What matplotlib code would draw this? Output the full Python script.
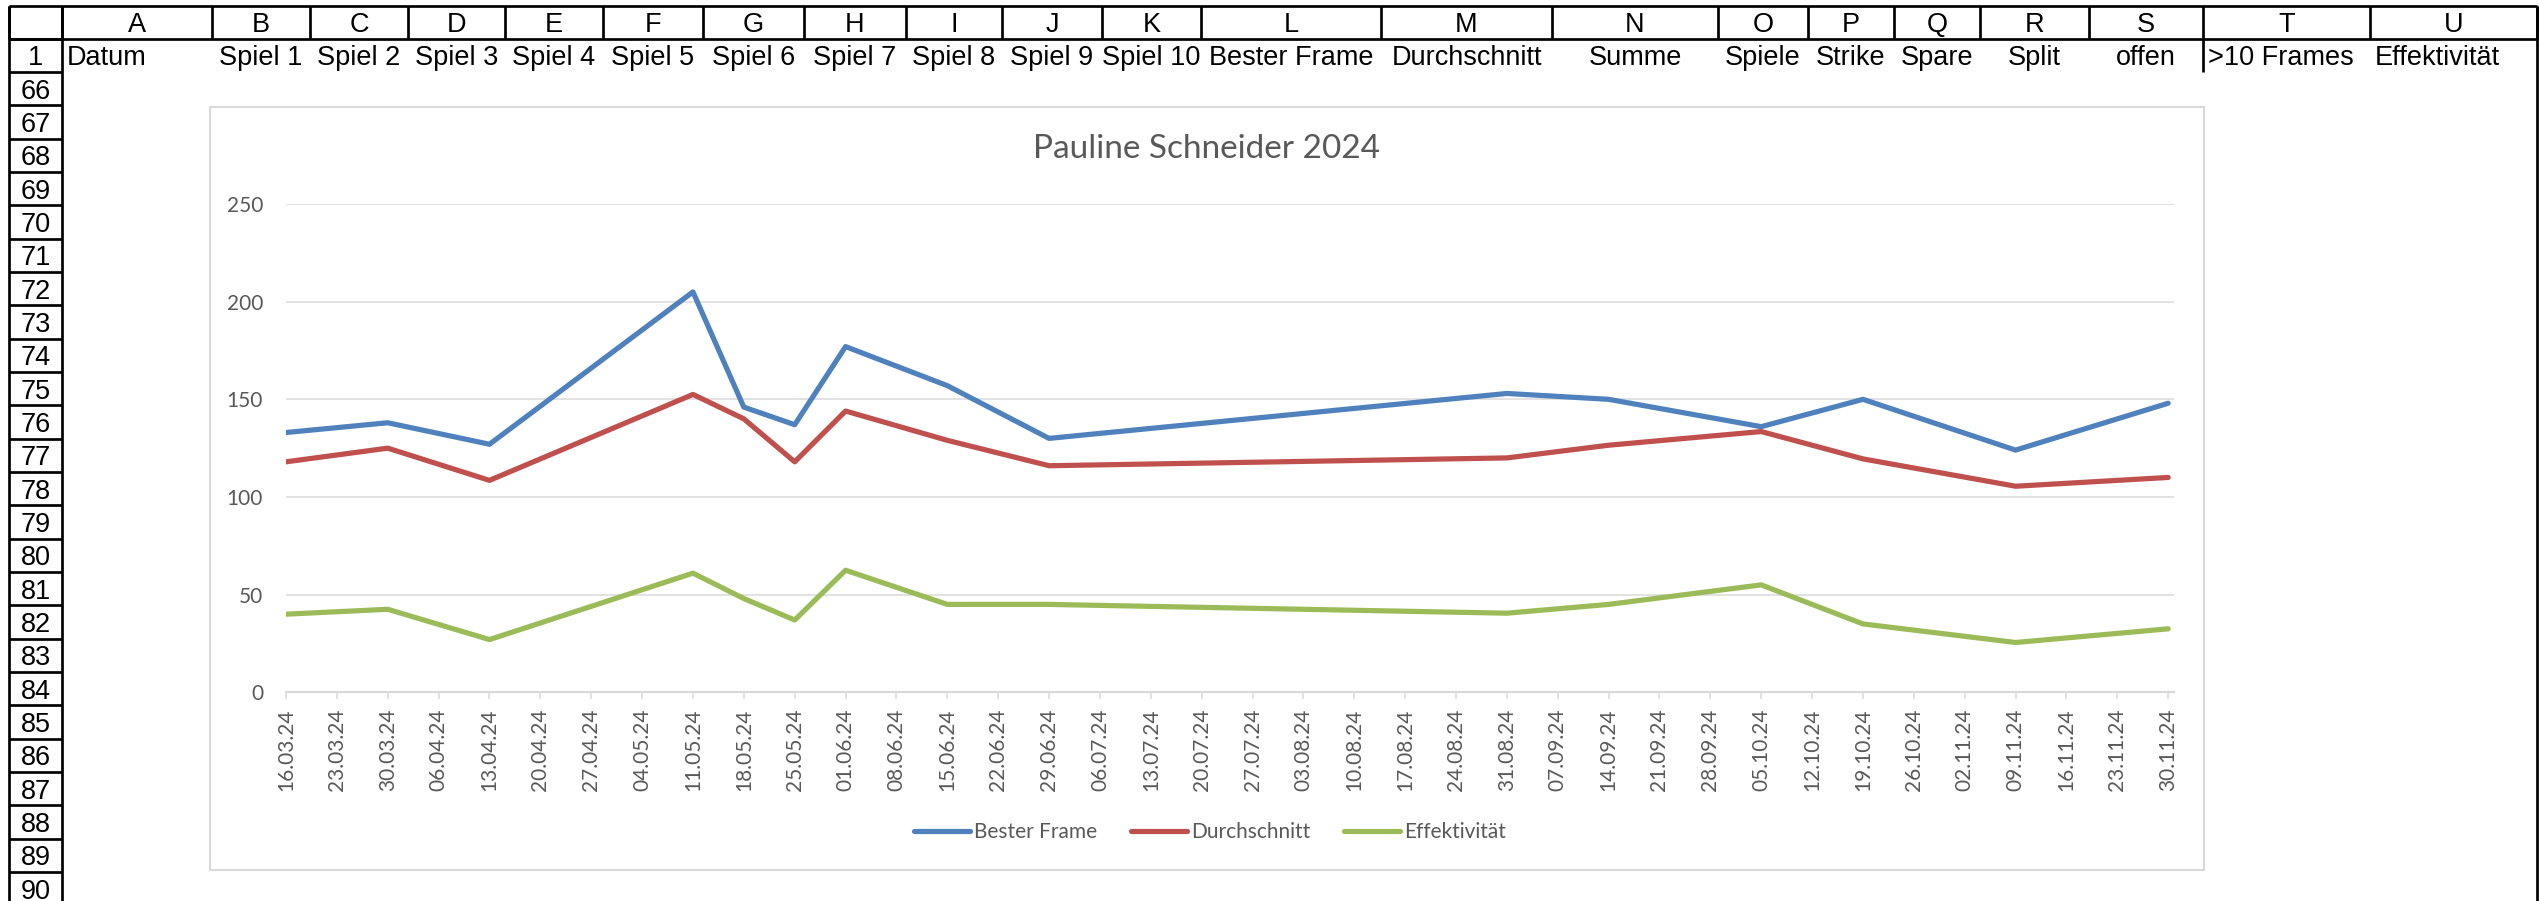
import numpy as np
import pandas as pd
import matplotlib
matplotlib.use('Agg')
import matplotlib.pyplot as plt
import matplotlib.dates as mdates
from matplotlib.patches import Rectangle

# Werte aus dem Diagramm
datum = pd.to_datetime(['16.03.2024', '30.03.2024', '13.04.2024', '11.05.2024', '18.05.2024',
                        '25.05.2024', '01.06.2024', '15.06.2024', '29.06.2024', '31.08.2024',
                        '14.09.2024', '05.10.2024', '19.10.2024', '09.11.2024', '30.11.2024'],
                       format='%d.%m.%Y')
bester_frame = [133, 138, 127, 205, 146, 137, 177, 157, 130, 153, 150, 136, 150, 124, 148]
durchschnitt = [118, 125, 108.5, 152.5, 140, 118, 144, 129, 116, 120, 126.5, 133.5, 119.5, 105.5, 110]
effektivitaet = [40, 42.5, 27, 61, 48, 37, 62.5, 45, 45, 40.5, 45, 55, 35, 25.5, 32.5]

spalten = list('ABCDEFGHIJKLMNOPQRSTU')
kopf = ['Datum', 'Spiel 1', 'Spiel 2', 'Spiel 3', 'Spiel 4', 'Spiel 5', 'Spiel 6', 'Spiel 7',
        'Spiel 8', 'Spiel 9', 'Spiel 10', 'Bester Frame', 'Durchschnitt', 'Summe', 'Spiele',
        'Strike', 'Spare', 'Split', 'offen', '>10 Frames', 'Effektivität']
kopf_links = ['Datum', '>10 Frames', 'Effektivität']
zeilen = ['1'] + [str(i) for i in range(66, 91)]

W, H = 2539, 901
PT = 72 / 100  # Pixel -> Punkt

# Tabellenraster (Pixel)
x_rand = 9
spalten_kanten = [62, 212, 310, 408, 505, 603, 703, 804, 906, 1002, 1102, 1201, 1381,
                  1552, 1718, 1808, 1894, 1980, 2089, 2203, 2370, 2537]
y0, zh = 5.5, 33.33

fig = plt.figure(figsize=(W / 100, H / 100), dpi=100)
fig.patch.set_facecolor('white')

bg = fig.add_axes([0, 0, 1, 1])
bg.set_xlim(0, W)
bg.set_ylim(H, 0)
bg.axis('off')

lw = 2.7 * PT
rechts = spalten_kanten[-1]
kopf_unten = y0 + zh
bg.hlines([y0, kopf_unten], x_rand, rechts, color='black', lw=lw)
bg.vlines([x_rand] + spalten_kanten, y0, kopf_unten, color='black', lw=lw)
bg.vlines([x_rand, spalten_kanten[0], rechts], y0, H, color='black', lw=lw)
zeilen_kanten = [y0 + zh * (i + 1) for i in range(len(zeilen) + 1)]
bg.hlines(zeilen_kanten, x_rand, spalten_kanten[0], color='black', lw=lw)
# Rahmen zwischen S und T in Zeile 1
bg.vlines(spalten_kanten[spalten.index('T')], kopf_unten, kopf_unten + zh, color='black', lw=lw)

sheet_font = dict(family='Liberation Sans', fontsize=19.5, color='black')
dy = 3
for i, s in enumerate(spalten):
    xm = (spalten_kanten[i] + spalten_kanten[i + 1]) / 2
    bg.text(xm, y0 + zh / 2 + dy, s, ha='center', va='center', **sheet_font)
for j, z in enumerate(zeilen):
    ym = y0 + zh * (j + 1) + zh / 2 + dy
    bg.text((x_rand + spalten_kanten[0]) / 2, ym, z, ha='center', va='center', **sheet_font)
for i, t in enumerate(kopf):
    ym = y0 + zh * 1.5 + dy
    if t in kopf_links:
        bg.text(spalten_kanten[i] + 5, ym, t, ha='left', va='center', **sheet_font)
    else:
        xm = (spalten_kanten[i] + spalten_kanten[i + 1]) / 2
        bg.text(xm, ym, t, ha='center', va='center', **sheet_font)

# Diagrammbereich
bg.add_patch(Rectangle((210, 107), 2204 - 210, 870 - 107, facecolor='white',
                       edgecolor='#D9D9D9', lw=2 * PT))

grau = '#595959'
linie = '#D9D9D9'
chart_font = 'Lato'
lw_serie = 5.2 * PT

ax = fig.add_axes([286 / W, 1 - 692.3 / H, (2174 - 286) / W, (692.3 - 204) / H])
ax.patch.set_visible(False)
ax.plot(datum, bester_frame, color='#4F81BD', lw=lw_serie, solid_capstyle='round',
        solid_joinstyle='round', label='Bester Frame')
ax.plot(datum, durchschnitt, color='#C0504D', lw=lw_serie, solid_capstyle='round',
        solid_joinstyle='round', label='Durchschnitt')
ax.plot(datum, effektivitaet, color='#9BBB59', lw=lw_serie, solid_capstyle='round',
        solid_joinstyle='round', label='Effektivität')

ax.set_ylim(0, 250)
ax.set_yticks(range(0, 251, 50))
ax.set_xlim(datum[0], datum[-1] + pd.Timedelta(days=0.8))
ax.set_xticks(pd.date_range(datum[0], datum[-1], freq='7D'))
ax.xaxis.set_major_formatter(mdates.DateFormatter('%d.%m.%y'))

ax.grid(axis='y', color=linie, lw=1.5 * PT)
ax.set_axisbelow(True)
for sp in ['top', 'right', 'left']:
    ax.spines[sp].set_visible(False)
ax.spines['bottom'].set_color(linie)
ax.spines['bottom'].set_linewidth(2.2 * PT)
ax.tick_params(axis='y', length=0, pad=23 * PT, labelsize=15, labelcolor=grau)
ax.tick_params(axis='x', length=7 * PT, width=1.5 * PT, color=linie, pad=9 * PT,
               labelsize=15, labelcolor=grau, rotation=90)
for lab in ax.get_xticklabels() + ax.get_yticklabels():
    lab.set_family(chart_font)

fig.text(1207 / W, 1 - 149 / H, 'Pauline Schneider 2024', ha='center', va='center',
         family=chart_font, fontweight='normal', fontsize=24, color=grau)

fig.legend(loc='center', bbox_to_anchor=(1210 / W, 1 - 832 / H), ncol=3, frameon=False,
           prop={'family': chart_font, 'size': 15}, labelcolor=grau,
           handlelength=2.7, handletextpad=0.2, columnspacing=1.6)

fig.savefig('out.png', dpi=100, facecolor='white')
